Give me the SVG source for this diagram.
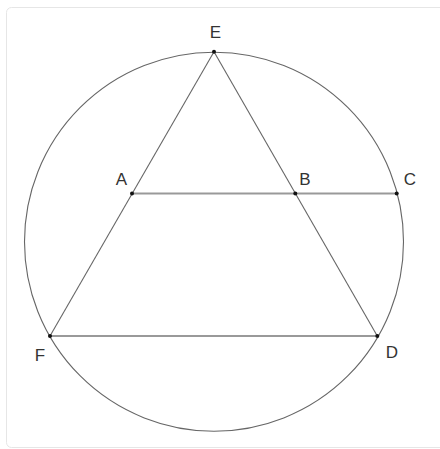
<svg xmlns="http://www.w3.org/2000/svg" width="440" height="449" viewBox="0 0 440 449">
<style>
.lbl{font-family:"Liberation Sans",Arial,sans-serif;font-size:17px;fill:#333;text-anchor:middle}
.ln{stroke:#666;stroke-width:1.1;fill:none}
.hz{stroke:#999;stroke-width:1.8;fill:none}
.pt{fill:#111}
</style>
<rect x="6.5" y="7.5" width="445" height="440" rx="5" fill="#fff" stroke="#e6e6e6" stroke-width="1"/>
<g id="connectors">
<circle class="ln" cx="214" cy="241.7" r="189.5"/>
<line class="ln" x1="214" y1="51.7" x2="50" y2="336"/>
<line class="ln" x1="214" y1="51.7" x2="377.3" y2="336"/>
<line class="hz" x1="132" y1="193.5" x2="396.7" y2="193.5"/>
<line class="hz" x1="50" y1="336" x2="377.3" y2="336"/>
</g>
<g id="E"><circle class="pt" cx="214" cy="51.7" r="2"/><text class="lbl" x="215.5" y="38">E</text></g>
<g id="A"><circle class="pt" cx="132" cy="193.5" r="2"/><text class="lbl" x="121.5" y="185">A</text></g>
<g id="B"><circle class="pt" cx="295.3" cy="193.5" r="2"/><text class="lbl" x="305" y="185">B</text></g>
<g id="C"><circle class="pt" cx="396.7" cy="193.5" r="2"/><text class="lbl" x="410" y="185">C</text></g>
<g id="F"><circle class="pt" cx="50" cy="336" r="2"/><text class="lbl" x="40" y="361">F</text></g>
<g id="D"><circle class="pt" cx="377.3" cy="336" r="2"/><text class="lbl" x="392" y="358">D</text></g>
</svg>
